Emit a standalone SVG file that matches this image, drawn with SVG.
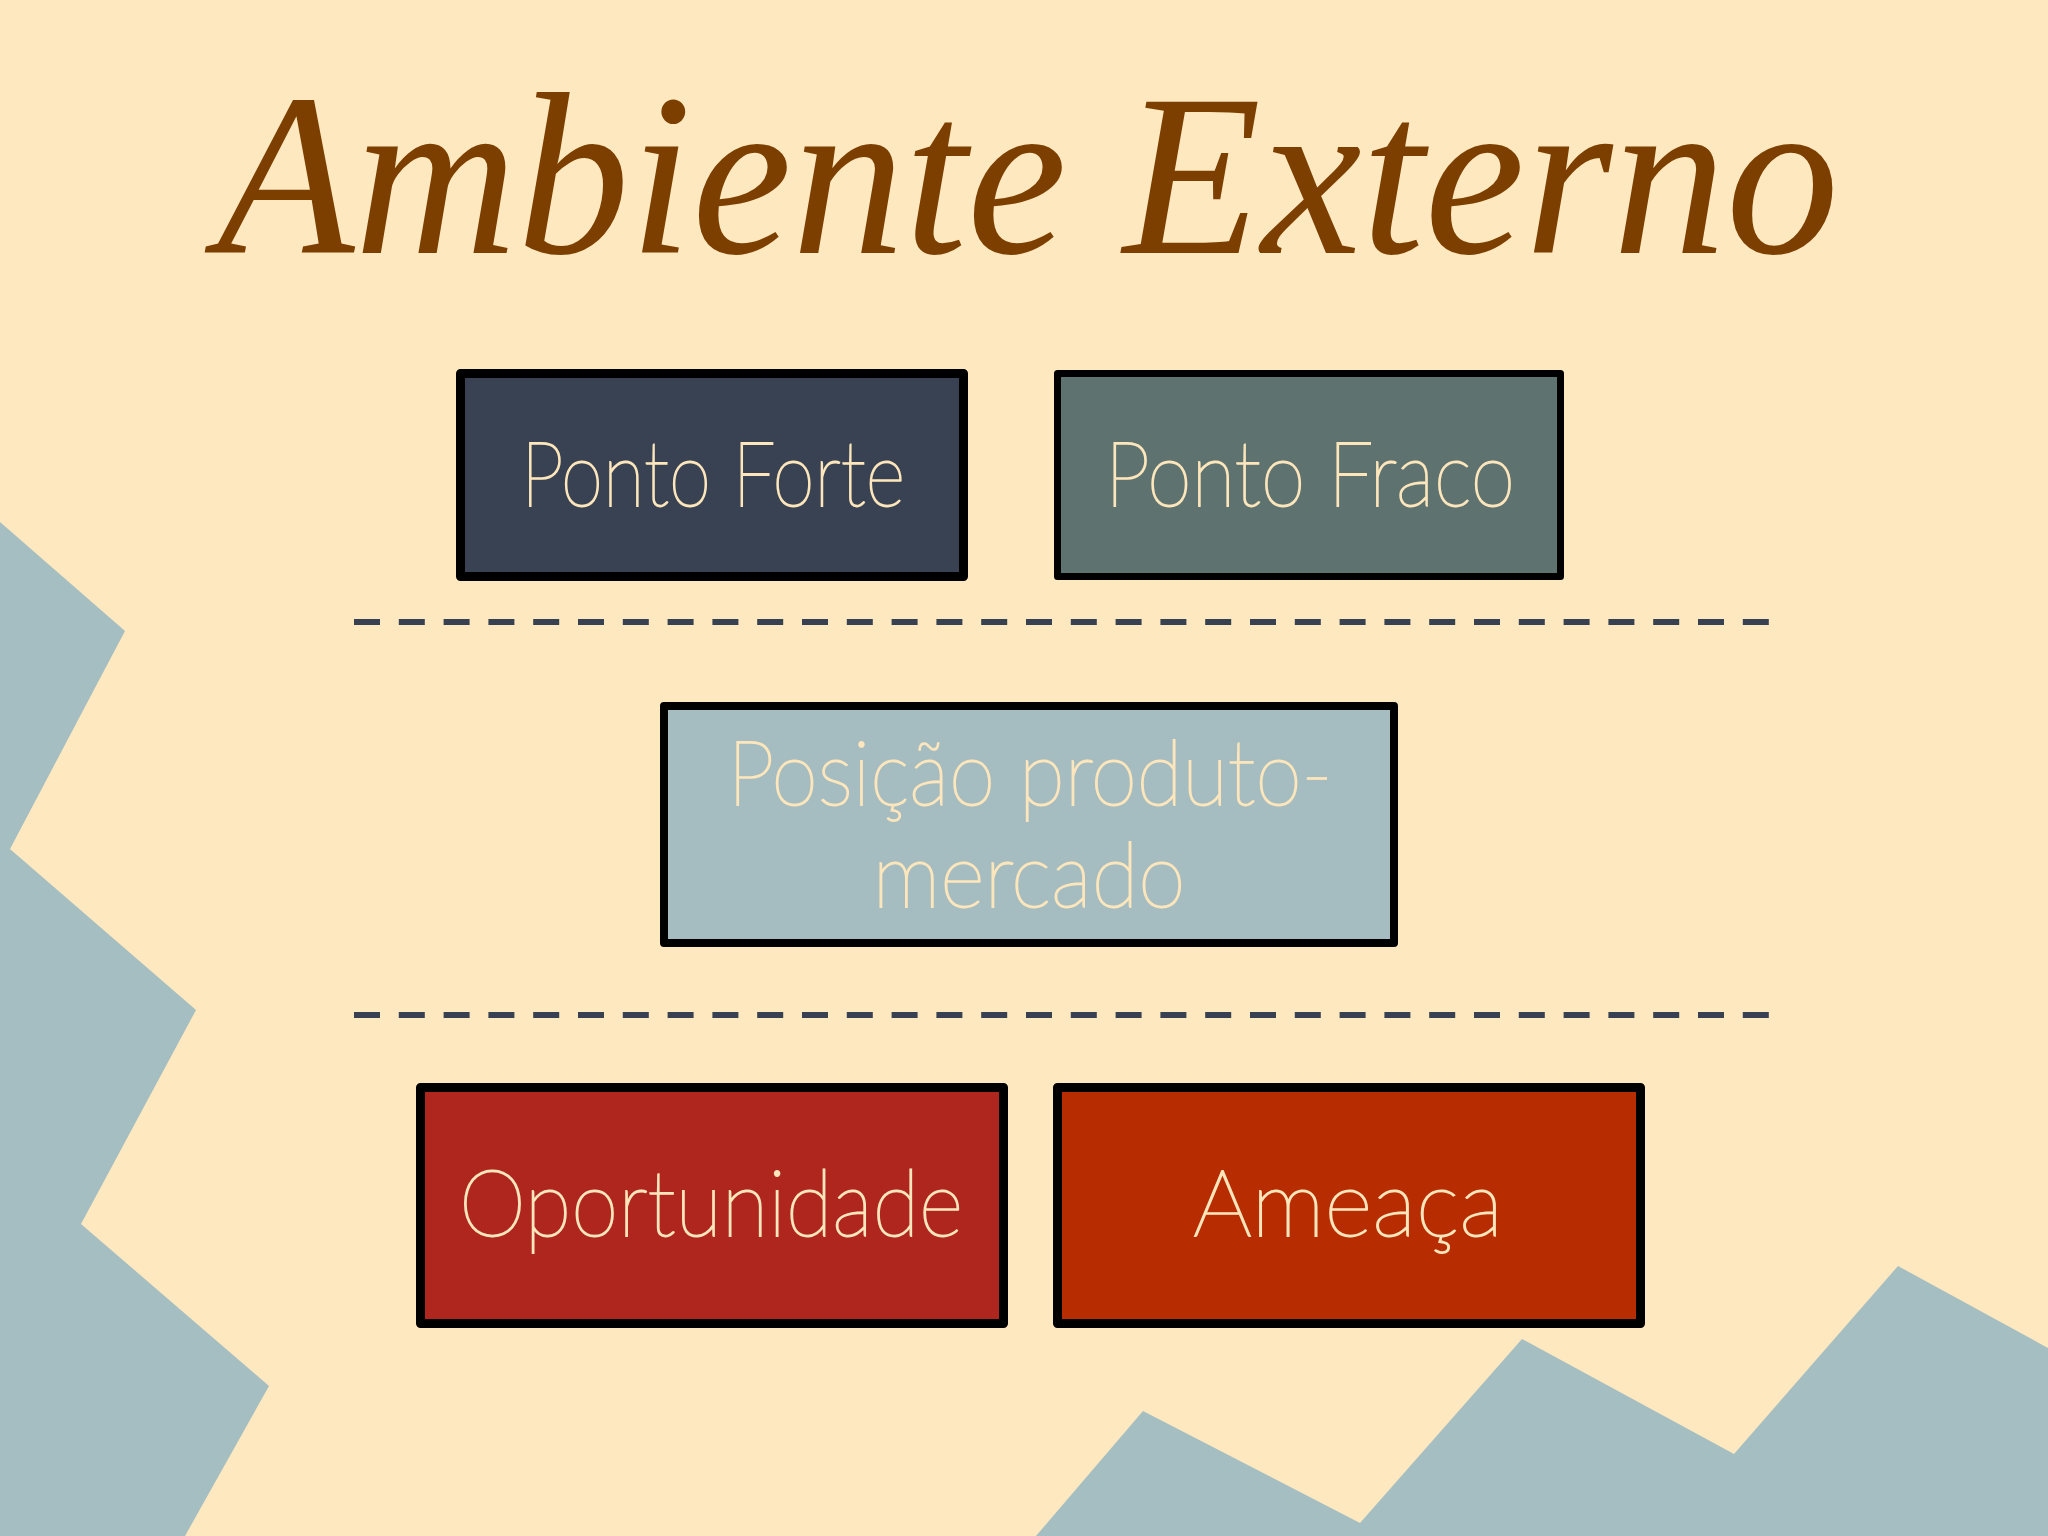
<svg xmlns="http://www.w3.org/2000/svg" width="2048" height="1536" viewBox="0 0 2048 1536">
  <style>
    .box { stroke: #000000; stroke-linejoin: round; }
    .lbl { font-family: "Lato", "Inter", "Liberation Sans", sans-serif; font-weight: 100; fill: #FDE6BC; stroke: #FDE6BC; stroke-width: 1.8; text-anchor: middle; }
    .title { font-family: "Liberation Serif", "DejaVu Serif", serif; font-style: italic; fill: #7C3F00; }
    .sep { stroke: #374151; stroke-width: 6; stroke-dasharray: 26 18.8; fill: none; }
    .deco { fill: #A5BEC1; }
  </style>
  <rect id="background" x="0" y="0" width="2048" height="1536" fill="#FDE8BF"/>
  <g id="decoration">
    <polygon class="deco" points="0,522 125,631 10,849 196,1010 81,1224 269,1386 185,1536 0,1536"/>
    <polygon class="deco" points="1036,1536 1143,1411 1360,1523 1522,1339 1734,1454 1898,1266 2048,1348 2048,1536"/>
  </g>
  <g id="title">
    <text class="title" x="217" y="253" font-size="232" textLength="850" lengthAdjust="spacingAndGlyphs">Ambiente</text>
    <text class="title" x="1123" y="253" font-size="232" textLength="716" lengthAdjust="spacingAndGlyphs">Externo</text>
  </g>
  <g id="connectors">
    <line class="sep" x1="354" y1="622" x2="1770" y2="622"/>
    <line class="sep" x1="354" y1="1015" x2="1770" y2="1015"/>
  </g>
  <g id="node-ponto-forte">
    <rect class="box" x="460.5" y="373.5" width="503" height="203" fill="#384252" stroke-width="9"/>
    <text class="lbl" x="713" y="506" font-size="90" textLength="384" lengthAdjust="spacingAndGlyphs">Ponto Forte</text>
  </g>
  <g id="node-ponto-fraco">
    <rect class="box" x="1057.5" y="373.5" width="503" height="203" fill="#5E7370" stroke-width="7"/>
    <text class="lbl" x="1310" y="506" font-size="90" textLength="410" lengthAdjust="spacingAndGlyphs">Ponto Fraco</text>
  </g>
  <g id="node-posicao">
    <rect class="box" x="664" y="706" width="730" height="237" fill="#A5BDC1" stroke-width="8"/>
    <text class="lbl" x="1030" y="805" font-size="90" textLength="605" lengthAdjust="spacingAndGlyphs">Posição produto-</text>
    <text class="lbl" x="1029" y="907" font-size="90" textLength="313" lengthAdjust="spacingAndGlyphs">mercado</text>
  </g>
  <g id="node-oportunidade">
    <rect class="box" x="420.5" y="1087.5" width="583" height="236" fill="#AE261E" stroke-width="9"/>
    <text class="lbl" x="711" y="1236" font-size="92" textLength="504" lengthAdjust="spacingAndGlyphs">Oportunidade</text>
  </g>
  <g id="node-ameaca">
    <rect class="box" x="1057.5" y="1087.5" width="583" height="236" fill="#B72C01" stroke-width="9"/>
    <text class="lbl" x="1348" y="1236" font-size="92" textLength="310" lengthAdjust="spacingAndGlyphs">Ameaça</text>
  </g>
</svg>
